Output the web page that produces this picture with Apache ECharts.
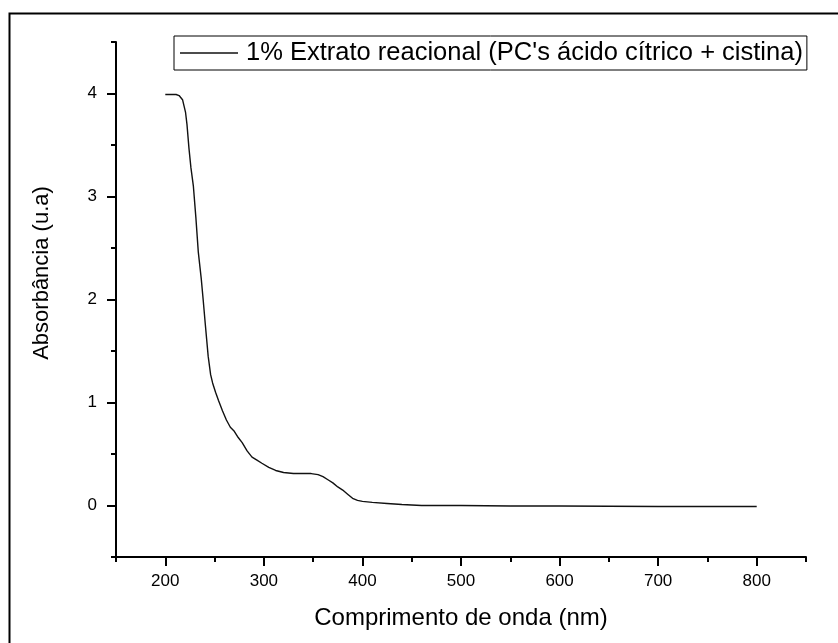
<!DOCTYPE html>
<html>
<head>
<meta charset="utf-8">
<script src="https://cdn.jsdelivr.net/npm/echarts@6/dist/echarts.min.js"></script>
<style>html,body{margin:0;padding:0;background:#fff}#c{width:838px;height:643px}</style>
</head>
<body>
<div id="c"></div>
<script>
const wavelength = [200,205,211,212,214,216,217.5,219,220.5,222,224,226,228.5,231,233.5,236.5,238.5,240.5,243.5,246,248,251,254,258,262,266,270,274,278,283,288,293,298,305,312,320,330,340,348,355,360,365,370,375,380,385,390,395,400,410,425,440,460,500,550,600,700,800];
const absorbance = [3.99,3.99,3.99,3.975,3.98,3.97,3.94,3.88,3.82,3.70,3.47,3.28,3.10,2.80,2.46,2.20,1.99,1.77,1.45,1.27,1.19,1.10,1.02,0.92,0.83,0.76,0.72,0.66,0.61,0.53,0.47,0.44,0.41,0.37,0.34,0.32,0.31,0.31,0.31,0.30,0.28,0.25,0.22,0.18,0.15,0.11,0.07,0.05,0.04,0.03,0.02,0.01,0.0,0.0,-0.005,-0.005,-0.01,-0.01];
const xMajorTicks = [200,300,400,500,600,700,800];
const xMinorTicks = [150,250,350,450,550,650,750,850];
const yMajorTicks = [0,1,2,3,4];
const yMinorTicks = [-0.5,0.5,1.5,2.5,3.5,4.5];
const seriesName = "1% Extrato reacional (PC's ácido cítrico + cistina)";
const xTitle = "Comprimento de onda (nm)";
const yTitle = "Absorbância (u.a)";

const FONT = "'Liberation Sans', Arial, sans-serif";
const chart = echarts.init(document.getElementById('c'), null, {renderer: 'canvas'});
const axisLineStyle = {color: '#000', width: 2};
chart.setOption({
  animation: false,
  backgroundColor: '#fff',
  grid: {left: 116, right: 32, top: 42, bottom: 86, containLabel: false},
  legend: {
    left: 174, top: 36,
    padding: [4, 4, 4, 6],
    borderColor: '#000', borderWidth: 1,
    icon: 'rect',
    itemWidth: 58, itemHeight: 1.3, itemGap: 8,
    textStyle: {fontFamily: FONT, fontSize: 25.5, color: '#000', padding: [0, 0, 0, 3]},
    data: [seriesName]
  },
  xAxis: [{
    type: 'value', min: 150, max: 850, interval: 50,
    name: xTitle, nameLocation: 'middle', nameGap: 49,
    nameTextStyle: {fontFamily: FONT, fontSize: 24, color: '#000'},
    axisLine: {show: true, onZero: false, lineStyle: axisLineStyle},
    axisTick: {show: true, inside: false, length: 9, customValues: xMajorTicks, lineStyle: {color: '#000', width: 2}},
    axisLabel: {show: true, customValues: xMajorTicks, margin: 16, fontFamily: FONT, fontSize: 17, color: '#000'},
    splitLine: {show: false}
  }, {
    type: 'value', min: 150, max: 850, interval: 50, position: 'bottom',
    axisLine: {show: false, onZero: false},
    axisTick: {show: true, inside: false, length: 5, customValues: xMinorTicks, lineStyle: {color: '#000', width: 2}},
    axisLabel: {show: false},
    splitLine: {show: false}
  }],
  yAxis: [{
    type: 'value', min: -0.5, max: 4.5, interval: 0.5,
    axisLine: {show: true, onZero: false, lineStyle: axisLineStyle},
    axisTick: {show: true, inside: false, length: 9, customValues: yMajorTicks, lineStyle: {color: '#000', width: 2}},
    axisLabel: {show: true, customValues: yMajorTicks, margin: 19, fontFamily: FONT, fontSize: 17, color: '#000'},
    splitLine: {show: false}
  }, {
    type: 'value', min: -0.5, max: 4.5, interval: 0.5, position: 'left',
    axisLine: {show: false, onZero: false},
    axisTick: {show: true, inside: false, length: 5, customValues: yMinorTicks, lineStyle: {color: '#000', width: 2}},
    axisLabel: {show: false},
    splitLine: {show: false}
  }],
  graphic: [
    {type: 'rect', left: 7, top: 11, z: -10, silent: true,
     shape: {x: 0, y: 0, width: 900, height: 700},
     style: {fill: 'none', stroke: '#000', lineWidth: 2}},
    {type: 'text', x: 42, y: 273, rotation: Math.PI / 2,
     style: {text: yTitle, fontFamily: FONT, fontSize: 22, fill: '#000', align: 'center', verticalAlign: 'middle'}}
  ],
  series: [{
    name: seriesName,
    type: 'line',
    xAxisIndex: 0, yAxisIndex: 0,
    data: wavelength.map((w, i) => [w, absorbance[i]]),
    symbol: 'none', showSymbol: false, smooth: false,
    lineStyle: {color: '#111', width: 1.4},
    itemStyle: {color: '#111'}
  }]
});
</script>
</body>
</html>
